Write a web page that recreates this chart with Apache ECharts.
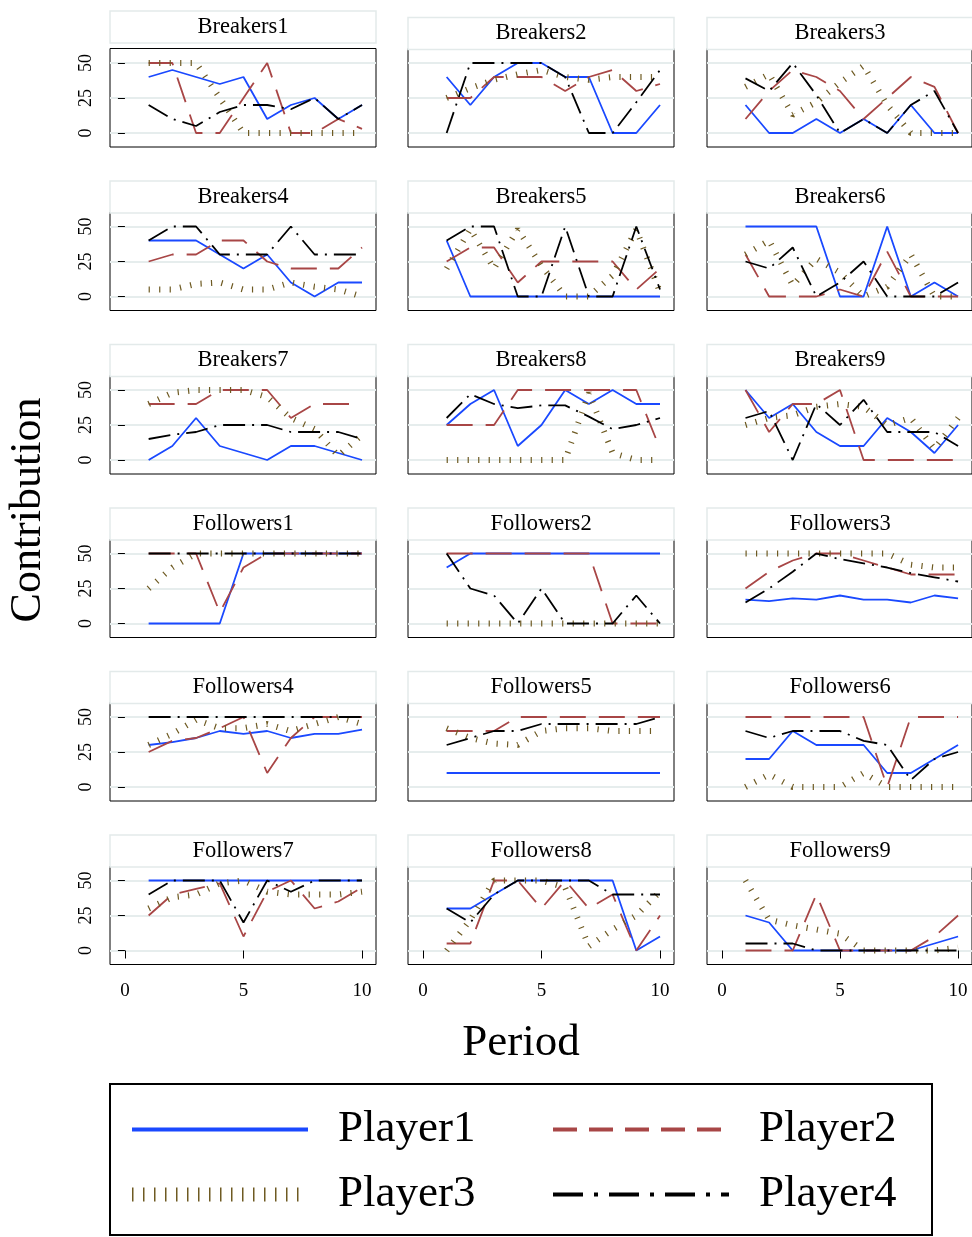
<!DOCTYPE html>
<html>
<head>
<meta charset="utf-8">
<script src="https://cdn.jsdelivr.net/npm/echarts@6/dist/echarts.min.js"></script>
<style>
  html, body { margin: 0; padding: 0; background: #fff; }
  #chart { width: 972px; height: 1237px; }
</style>
</head>
<body>
<div id="chart"></div>
<script>
var periods = [1, 2, 3, 4, 5, 6, 7, 8, 9, 10];
var panelNames = ['Breakers1', 'Breakers2', 'Breakers3', 'Breakers4', 'Breakers5', 'Breakers6',
  'Breakers7', 'Breakers8', 'Breakers9', 'Followers1', 'Followers2', 'Followers3',
  'Followers4', 'Followers5', 'Followers6', 'Followers7', 'Followers8', 'Followers9'];
var yTicks = [0, 25, 50];
var xTicks = [0, 5, 10];

// one row of 10 contributions per panel
var player1 = [
  [40, 45, 40, 35, 40, 10, 20, 25, 10, 20],
  [40, 20, 40, 50, 50, 40, 40, 0, 0, 20],
  [20, 0, 0, 10, 0, 10, 0, 20, 0, 0],
  [40, 40, 40, 30, 20, 30, 10, 0, 10, 10],
  [40, 0, 0, 0, 0, 0, 0, 0, 0, 0],
  [50, 50, 50, 50, 0, 0, 50, 0, 10, 0],
  [0, 10, 30, 10, 5, 0, 10, 10, 5, 0],
  [25, 40, 50, 10, 25, 50, 40, 50, 40, 40],
  [50, 30, 40, 20, 10, 10, 30, 20, 5, 25],
  [0, 0, 0, 0, 50, 50, 50, 50, 50, 50],
  [40, 50, 50, 50, 50, 50, 50, 50, 50, 50],
  [17, 16, 18, 17, 20, 17, 17, 15, 20, 18],
  [30, 32, 35, 40, 38, 40, 35, 38, 38, 41],
  [10, 10, 10, 10, 10, 10, 10, 10, 10, 10],
  [20, 20, 40, 30, 30, 30, 10, 10, 20, 30],
  [50, 50, 50, 50, 50, 50, 50, 50, 50, 50],
  [30, 30, 40, 50, 50, 50, 50, 50, 0, 10],
  [25, 20, 0, 0, 0, 0, 0, 0, 5, 10]
];
var player2 = [
  [50, 50, 0, 0, 25, 50, 0, 0, 10, 3],
  [25, 25, 40, 40, 40, 30, 40, 45, 30, 35],
  [10, 30, 45, 40, 30, 10, 25, 40, 33, 0],
  [25, 30, 30, 40, 40, 25, 20, 20, 20, 35],
  [25, 35, 35, 10, 25, 25, 25, 25, 5, 20],
  [30, 0, 0, 0, 5, 0, 32, 0, 0, 0],
  [40, 40, 40, 50, 50, 50, 30, 40, 40, 40],
  [25, 25, 25, 50, 50, 50, 50, 50, 50, 8],
  [50, 20, 40, 40, 50, 0, 0, 0, 0, 0],
  [50, 50, 50, 8, 40, 50, 50, 50, 50, 50],
  [50, 50, 50, 50, 50, 50, 50, 0, 0, 0],
  [25, 37, 45, 50, 50, 45, 40, 35, 35, 35],
  [25, 33, 35, 42, 50, 10, 35, 50, 50, 50],
  [40, 40, 40, 50, 50, 50, 50, 50, 50, 50],
  [50, 50, 50, 50, 50, 50, 0, 50, 50, 50],
  [25, 40, 44, 48, 10, 42, 50, 30, 35, 45],
  [5, 5, 50, 50, 30, 50, 30, 40, 0, 25],
  [0, 0, 0, 40, 0, 0, 0, 0, 10, 25]
];
var player3 = [
  [50, 50, 50, 25, 0, 0, 0, 0, 0, 0],
  [25, 32, 38, 42, 45, 40, 38, 40, 40, 40],
  [33, 42, 13, 22, 36, 48, 20, 0, 0, 0],
  [5, 5, 9, 10, 5, 5, 10, 7, 5, 0],
  [20, 48, 20, 48, 22, 0, 0, 15, 48, 3],
  [30, 40, 8, 27, 17, 0, 7, 30, 0, 0],
  [40, 48, 50, 50, 50, 45, 30, 22, 3, 18],
  [0, 0, 0, 0, 0, 0, 48, 5, 0, 0],
  [25, 30, 32, 38, 40, 38, 25, 30, 8, 30],
  [25, 40, 50, 50, 50, 50, 50, 50, 50, 50],
  [0, 0, 0, 0, 0, 0, 0, 0, 0, 0],
  [50, 50, 50, 50, 50, 50, 50, 42, 40, 40],
  [30, 38, 48, 42, 42, 45, 40, 45, 50, 45],
  [42, 35, 31, 30, 40, 42, 42, 40, 40, 40],
  [0, 9, 0, 0, 0, 10, 0, 0, 0, 0],
  [30, 38, 40, 48, 50, 42, 40, 40, 40, 42],
  [0, 22, 50, 50, 50, 45, 3, 15, 25, 42],
  [50, 22, 18, 15, 12, 0, 0, 0, 0, 2]
];
var player4 = [
  [20, 10, 5, 15, 20, 20, 17, 25, 10, 20],
  [0, 50, 50, 50, 50, 40, 0, 0, 22, 45],
  [39, 30, 50, 27, 0, 10, 0, 20, 30, 0],
  [40, 50, 50, 30, 30, 30, 50, 30, 30, 30],
  [40, 50, 50, 0, 0, 50, 0, 0, 50, 5],
  [25, 20, 35, 0, 10, 25, 0, 0, 0, 10],
  [15, 18, 20, 25, 25, 25, 20, 20, 20, 15],
  [30, 47, 40, 37, 39, 39, 31, 22, 25, 30],
  [30, 35, 0, 40, 25, 43, 20, 20, 20, 10],
  [50, 50, 50, 50, 50, 50, 50, 50, 50, 50],
  [50, 25, 20, 0, 25, 0, 0, 0, 20, 0],
  [15, 25, 37, 50, 46, 43, 40, 36, 33, 30],
  [50, 50, 50, 50, 50, 50, 50, 50, 50, 50],
  [30, 35, 40, 40, 45, 45, 45, 45, 45, 50],
  [40, 35, 40, 40, 40, 33, 30, 5, 20, 25],
  [40, 50, 50, 50, 20, 50, 42, 50, 50, 50],
  [30, 20, 40, 50, 50, 50, 50, 40, 40, 40],
  [5, 5, 5, 0, 0, 0, 0, 0, 0, 0]
];

var players = [player1, player2, player3, player4];
var playerNames = ['Player1', 'Player2', 'Player3', 'Player4'];
var serif = 'Liberation Serif';

function lineStyleFor(k) {
  if (k === 0) return { color: '#1a49ff', width: 1.8, type: 'solid' };
  if (k === 1) return { color: '#a84646', width: 1.8, type: [26, 13] };
  if (k === 2) return { color: '#6e5a22', width: 6, type: [1.2, 9.3], cap: 'butt' };
  return { color: '#000000', width: 1.8, type: [22, 7, 2, 7] };
}

var colLeft = [110, 408, 707];
var grids = [], xAxes = [], yAxes = [], series = [], graphics = [];

for (var i = 0; i < panelNames.length; i++) {
  var row = Math.floor(i / 3), col = i % 3;
  var gridTop = 48.5 + 163.5 * row;
  grids.push({
    left: colLeft[col], top: gridTop, width: 266, height: 98.5,
    show: true, borderColor: '#000', borderWidth: 1, backgroundColor: '#fff'
  });
  xAxes.push({
    gridIndex: i, type: 'value', min: -0.63, max: 10.59,
    axisLine: { show: false }, splitLine: { show: false },
    axisTick: { show: row === 5, customValues: xTicks, length: 8, lineStyle: { color: '#000' } },
    axisLabel: { show: row === 5, customValues: xTicks, margin: 17, fontSize: 19, fontFamily: serif, color: '#000' }
  });
  yAxes.push({
    gridIndex: i, type: 'value', min: -10, max: 60.36,
    axisLine: { show: false },
    splitLine: { show: true, lineStyle: { color: '#e6eded', width: 2 } },
    axisTick: { show: col === 0, customValues: yTicks, length: 7, lineStyle: { color: '#000' } },
    axisLabel: { show: col === 0, customValues: yTicks, rotate: 90, margin: 15, fontSize: 18, fontFamily: serif, color: '#000' }
  });
  for (var k = 0; k < 4; k++) {
    var vals = players[k][i];
    var pts = [];
    for (var j = 0; j < periods.length; j++) pts.push([periods[j], vals[j]]);
    series.push({
      type: 'line', name: playerNames[k], xAxisIndex: i, yAxisIndex: i,
      data: pts, symbol: 'none', showSymbol: false, z: 2 + k,
      lineStyle: lineStyleFor(k)
    });
  }
  // title strip above the panel
  var stripTop = (i === 0) ? 11 : gridTop - 31;
  graphics.push({
    type: 'rect', shape: { x: colLeft[col], y: stripTop, width: 266, height: 32 },
    style: { fill: '#fff', stroke: '#e3eaea', lineWidth: 1.5 }
  });
  graphics.push({
    type: 'text', x: colLeft[col] + 133, y: stripTop + 16,
    style: { text: panelNames[i], font: '22.5px "Liberation Serif"', fill: '#000', align: 'center', verticalAlign: 'middle' }
  });
}

graphics.push({
  type: 'text', x: 28, y: 510, rotation: Math.PI / 2,
  style: { text: 'Contribution', font: '44px "Liberation Serif"', fill: '#000', align: 'center', verticalAlign: 'middle' }
});
graphics.push({
  type: 'text', x: 521, y: 1043,
  style: { text: 'Period', font: '45px "Liberation Serif"', fill: '#000', align: 'center', verticalAlign: 'middle' }
});
graphics.push({
  type: 'rect', shape: { x: 110, y: 1084, width: 822, height: 151 },
  style: { fill: 'none', stroke: '#000', lineWidth: 2 }
});

function legendFor(name, left, legendTop, ls) {
  ls.opacity = 1;
  return {
    data: [name], left: left, top: legendTop, padding: 0,
    itemWidth: 176, itemHeight: 14, selectedMode: false,
    itemStyle: { opacity: 0 },
    lineStyle: ls,
    textStyle: { fontSize: 45, fontFamily: serif, color: '#000', padding: [10, 0, 0, 25] }
  };
}

var option = {
  backgroundColor: '#fff',
  animation: false,
  grid: grids,
  xAxis: xAxes,
  yAxis: yAxes,
  series: series,
  legend: [
    legendFor('Player1', 130, 1107, { width: 4 }),
    legendFor('Player2', 551, 1107, { width: 4, type: [24, 12] }),
    legendFor('Player3', 125, 1172, { width: 14, type: [1.5, 9.5] }),
    legendFor('Player4', 551, 1172, { width: 4, type: [30, 11, 4, 11] })
  ],
  graphic: graphics
};

var myChart = echarts.init(document.getElementById('chart'));
myChart.setOption(option);
</script>
</body>
</html>
